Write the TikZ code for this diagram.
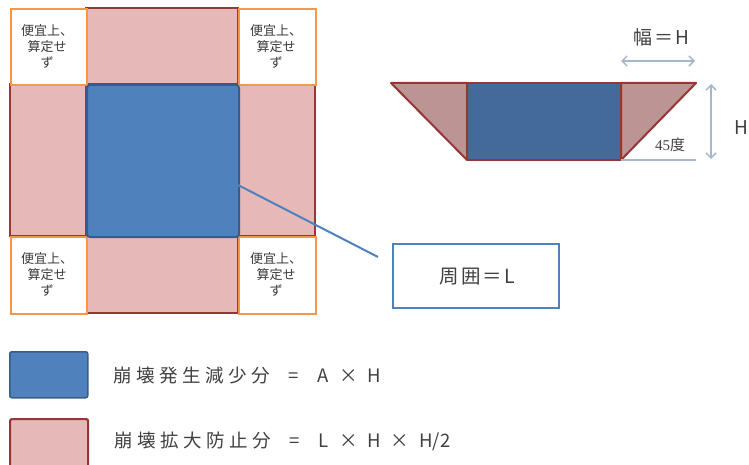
\documentclass[tikz,border=0pt]{standalone}
\usepackage{fontspec}
\setmainfont{Noto Sans CJK JP}
\newfontfamily\serifnum{Liberation Serif}
\usetikzlibrary{arrows.meta}
\definecolor{pinkfill}{HTML}{E6B9B8}
\definecolor{pinkedge}{HTML}{953735}
\definecolor{bluefill}{HTML}{4F81BD}
\definecolor{blueedge}{HTML}{385D8A}
\definecolor{darkblue}{HTML}{44699B}
\definecolor{trifill}{HTML}{BD9494}
\definecolor{orangeedge}{HTML}{F79646}
\definecolor{txt}{HTML}{404040}
\definecolor{dimline}{HTML}{A6B6CC}
\tikzset{
  pinkcell/.style={fill=pinkfill,draw=pinkedge,line width=2pt},
  cornercell/.style={fill=white,draw=orangeedge,line width=2.4pt},
  bluecell/.style={fill=bluefill,draw=blueedge,line width=2pt,rounded corners=3pt},
  cornertext/.style={text=txt!90!black,font=\fontsize{13}{16}\selectfont,align=center,inner sep=0pt},
  legendtext/.style={text=txt,font=\fontsize{18.5}{20}\selectfont,anchor=west,inner sep=0pt},
  dimarrow/.style={draw=dimline,line width=1.5pt,{Straight Barb[length=5pt,width=10pt]}-{Straight Barb[length=5pt,width=10pt]}},
}
\newcommand{\gp}{\hspace{4.5pt}}
\newcommand{\eqgap}{\hspace{19pt}}
\newcommand{\xgap}{\hspace{10pt}}
\begin{document}
\begin{tikzpicture}[x=1pt,y=-1pt]
\useasboundingbox (0,0) rectangle (749,465);
% pink cells
\path[pinkcell] (86,8) rectangle (238,84);
\path[pinkcell] (86,236) rectangle (238,313);
\path[pinkcell] (10,84) rectangle (86,236);
\path[pinkcell] (238,84) rectangle (315,236);
% corner cells
\node[cornercell,minimum width=76pt,minimum height=76pt,anchor=north west] (c1) at (10,8) {};
\node[cornercell,minimum width=77pt,minimum height=76pt,anchor=north west] (c2) at (238,8) {};
\node[cornercell,minimum width=76pt,minimum height=77pt,anchor=north west] (c3) at (10,236) {};
\node[cornercell,minimum width=77pt,minimum height=77pt,anchor=north west] (c4) at (238,236) {};
\node[cornertext] (t1) at (47,46) {便宜上、\\算定せ\\ず};
\node[cornertext] (t2) at (276,46) {便宜上、\\算定せ\\ず};
\node[cornertext] (t3) at (47,274) {便宜上、\\算定せ\\ず};
\node[cornertext] (t4) at (276,274) {便宜上、\\算定せ\\ず};
% blue center
\node[bluecell,minimum width=152pt,minimum height=152pt,anchor=north west] (center) at (86,84) {};
% callout
\node[draw=bluefill,line width=2.4pt,fill=white,minimum width=166pt,minimum height=64pt,anchor=north west,inner sep=0pt] (callout) at (392,243) {};
\node[text=txt,font=\fontsize{19.5}{21}\selectfont,inner sep=0pt] (calltext) at ([xshift=1pt]callout.center) {周\hspace{2pt}囲\hspace{2pt}＝\hspace{2pt}L};
\coordinate (callend) at (378,257);
\draw[bluefill,line width=2pt] (238,185) -- (callend);
% right cross-section
\coordinate (tl) at (391,83);
\coordinate (tr) at (696,83);
\coordinate (bl) at (467,160);
\coordinate (br) at (621,160);
\coordinate (itl) at (467,83);
\coordinate (itr) at (621,83);
\fill[darkblue] (itl) rectangle (br);
\path[fill=trifill,draw=pinkedge,line width=2pt,line join=round] (tl) -- (itl) -- (bl) -- cycle;
\path[fill=trifill,draw=pinkedge,line width=2pt,line join=round] (itr) -- (tr) -- (br) -- cycle;
\draw[pinkedge,line width=2pt] (itl) -- (itr);
\draw[pinkedge,line width=2pt] (bl) -- (br);
\coordinate (baseend) at (696,160);
\draw[dimline,line width=1.5pt] (br) -- (baseend);
\coordinate (wa) at (621,61);
\coordinate (wb) at (695,61);
\draw[dimarrow] (wa) -- (wb);
\node[text=txt,font=\fontsize{19}{21}\selectfont,inner sep=0pt] (wlabel) at (661,37) {幅\hspace{2pt}＝\hspace{2pt}H};
\coordinate (ha) at (711,84);
\coordinate (hb) at (711,159);
\draw[dimarrow] (ha) -- (hb);
\node[text=txt,font=\fontsize{19}{21}\selectfont,inner sep=0pt] (hlabel) at (741,128) {H};
\node[text=txt,font=\fontsize{15}{17}\selectfont,inner sep=0pt] (deg) at (670,145) {{\serifnum 45}度};
% legend
\node[fill=bluefill,draw=blueedge,line width=1.5pt,rounded corners=2pt,minimum width=78pt,minimum height=46pt,anchor=north west,inner sep=0pt] (lgblue) at (9,351) {};
\node[fill=pinkfill,draw=pinkedge,line width=2.2pt,rounded corners=2pt,minimum width=78pt,minimum height=50pt,anchor=north west,inner sep=0pt] (lgpink) at (9,418) {};
\node[legendtext] (lt1) at (113,376) {崩\gp 壊\gp 発\gp 生\gp 減\gp 少\gp 分\eqgap=\eqgap A\xgap×\xgap H};
\node[legendtext] (lt2) at (114,441) {崩\gp 壊\gp 拡\gp 大\gp 防\gp 止\gp 分\eqgap=\eqgap L\xgap×\xgap H\xgap×\xgap H/2};
\end{tikzpicture}
\end{document}
